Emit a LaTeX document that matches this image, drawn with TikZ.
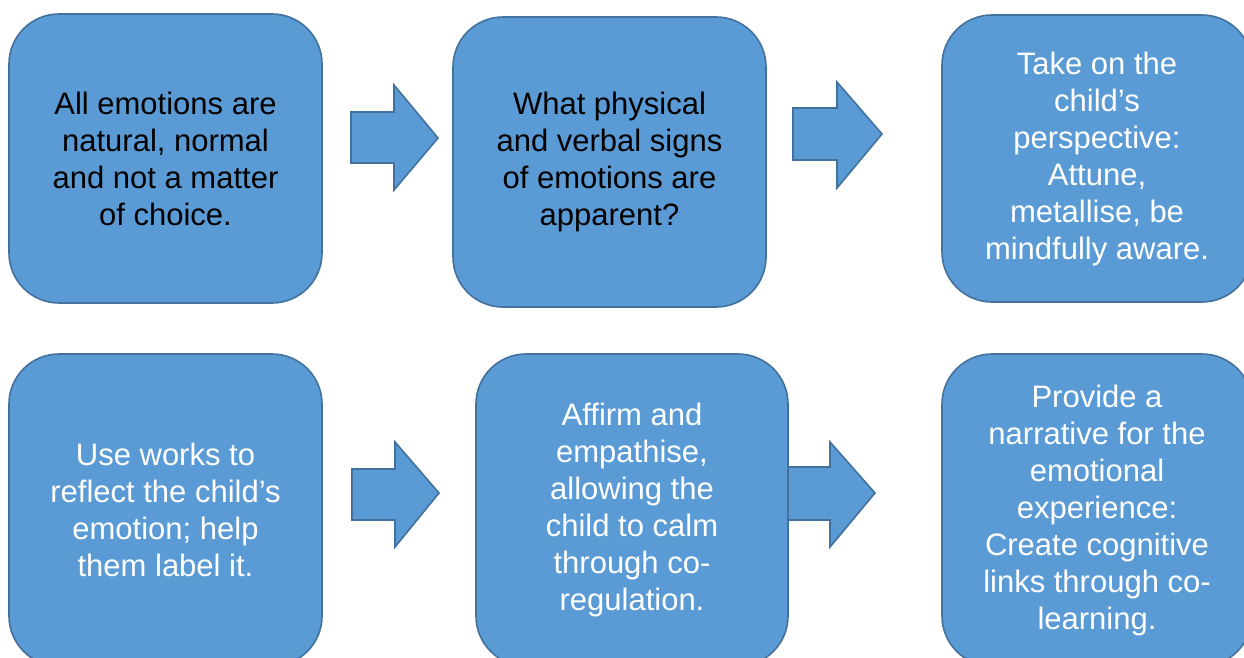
\documentclass[tikz,border=0pt]{standalone}
\usepackage{fontspec}
\setmainfont{Liberation Sans}
\definecolor{boxfill}{HTML}{5B9BD5}
\definecolor{boxline}{HTML}{41719C}
\tikzset{
  flowbox/.style={draw=boxline, fill=boxfill, line width=1.6pt, rounded corners=50pt,
    align=center, inner sep=0pt, font=\fontsize{31}{37}\selectfont},
  blockarrow/.style={draw=boxline, fill=boxfill, line width=1.6pt, line join=miter},
}
\begin{document}
\begin{tikzpicture}[x=1pt, y=-1pt]
\useasboundingbox (0,0) rectangle (1244,657);
\clip (0,0) rectangle (1244,657);
% block arrows
\coordinate (a1) at (351,138);
\draw[blockarrow] (351,112) -- (394,112) -- (394,85) -- (438,138) -- (394,190) -- (394,163) -- (351,163) -- cycle;
\draw[blockarrow] (793,108) -- (837,108) -- (837,82) -- (882,134) -- (837,188) -- (837,160) -- (793,160) -- cycle;
\draw[blockarrow] (352,469) -- (395,469) -- (395,442) -- (439,493) -- (395,547) -- (395,520) -- (352,520) -- cycle;
\draw[blockarrow] (770,467) -- (830,467) -- (830,442) -- (875,493) -- (830,547) -- (830,520) -- (770,520) -- cycle;
% boxes
\node[flowbox, minimum width=313pt, minimum height=289pt, text=black] (b1) at (165.5,158.5)
  {All emotions are\\natural, normal\\and not a matter\\of choice.};
\node[flowbox, minimum width=313pt, minimum height=290pt, text=black] (b2) at (609.5,162)
  {What physical\\and verbal signs\\of emotions are\\apparent?};
\node[flowbox, minimum width=310pt, minimum height=287pt, text=white] (b3) at (1097,158.5)
  {Take on the\\child’s\\perspective:\\Attune,\\metallise, be\\mindfully aware.};
\node[flowbox, minimum width=313pt, minimum height=312pt, text=white] (b4) at (165.5,510)
  {Use works to\\reflect the child’s\\emotion; help\\them label it.};
\node[flowbox, minimum width=312pt, minimum height=312pt, text=white] (b5) at (632,510)
  {Affirm and\\empathise,\\allowing the\\child to calm\\through co-\\regulation.};
\node[flowbox, minimum width=310pt, minimum height=312pt, text=white] (b6) at (1097,510)
  {Provide a\\narrative for the\\emotional\\experience:\\Create cognitive\\links through co-\\learning.};
\end{tikzpicture}
\end{document}
